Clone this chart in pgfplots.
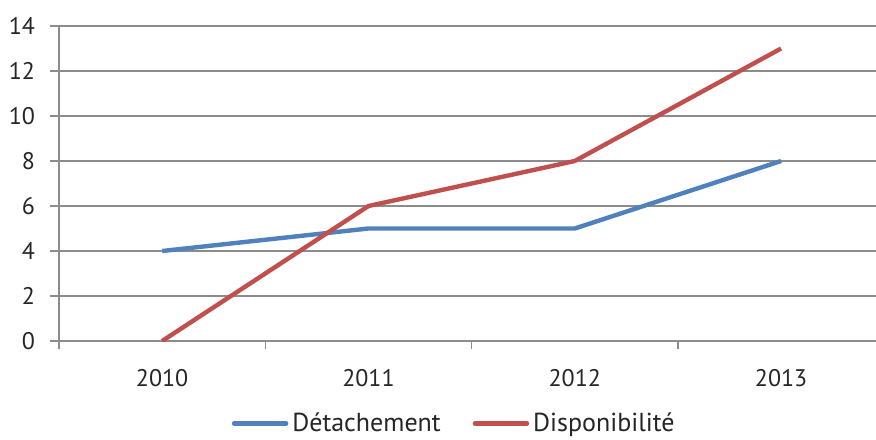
\documentclass[border=0pt]{standalone}
\usepackage{fontspec}
\setmainfont{PT Sans}
\usepackage{pgfplots}
\pgfplotsset{compat=1.18}
\definecolor{bleu}{HTML}{4F81BD}
\definecolor{rouge}{HTML}{C0504D}
\definecolor{grille}{HTML}{8C8C8C}
\begin{document}
\begin{tikzpicture}
\begin{axis}[
  scale only axis, width=408.5pt, height=157.5pt,
  at={(0,0)}, anchor=south west,
  xmin=0, xmax=3.96, ymin=0, ymax=14,
  axis lines=left, axis line style={-, grille, line width=0.75pt},
  xtick={0.5,1.5,2.5,3.5}, xticklabels={2010,2011,2012,2013},
  minor xtick={0,1,2,3},
  ytick={0,2,...,14},
  ymajorgrids, grid style={grille, line width=0.75pt},
  major x tick style={draw=none},
  minor x tick style={grille, line width=0.75pt},
  minor tick length=4pt,
  tick align=outside,
  major tick length=4.5pt,
  y tick style={grille, line width=0.75pt},
  tick label style={font=\fontsize{12}{14}\selectfont, text=black!85},
  /pgf/number format/assume math mode=true,
  xticklabel style={yshift=-6pt},
  yticklabel style={xshift=-4pt},
  legend style={at={(0.485,-0.262)}, anchor=center, draw=none, legend columns=2,
    font=\fontsize{13}{15}\selectfont, text=black!85,
    /tikz/every even column/.append style={column sep=14pt}},
  legend image code/.code={\draw[#1, line width=2.2pt, line cap=round] (0cm,0cm) -- (26pt,0cm);},
]
\addplot[bleu, line width=2.2pt] coordinates {(0.5,4) (1.5,5) (2.5,5) (3.5,8)};
\addlegendentry{Détachement}
\addplot[rouge, line width=2.2pt] coordinates {(0.5,0) (1.5,6) (2.5,8) (3.5,13)};
\addlegendentry{Disponibilité}
\end{axis}
\pgfresetboundingbox
\useasboundingbox (-29.5pt,-49pt) rectangle (408.5pt,170.5pt);
\end{tikzpicture}
\end{document}
